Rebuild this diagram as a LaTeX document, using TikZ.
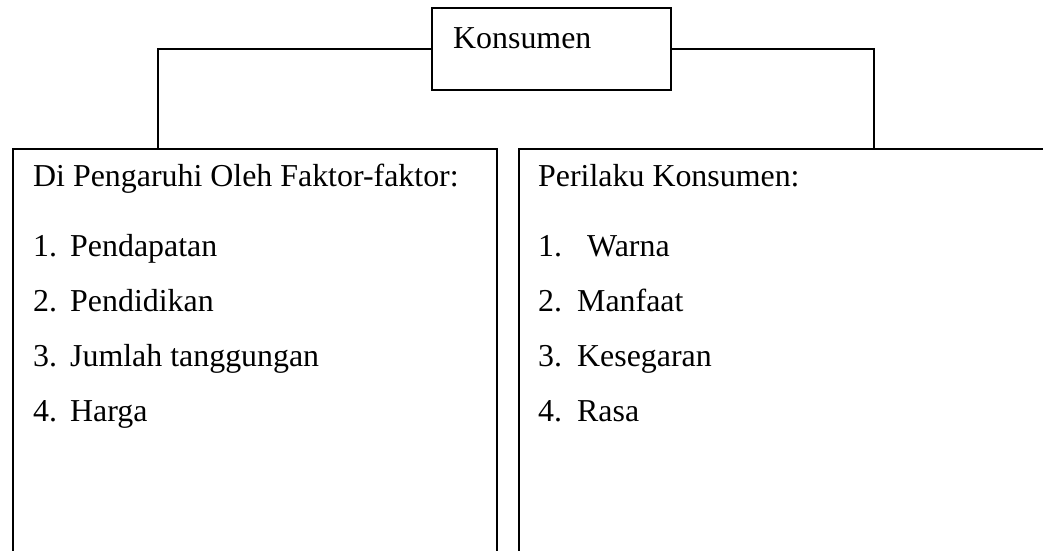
\documentclass[tikz,border=0pt]{standalone}
\usepackage{fontspec}
\setmainfont{Liberation Serif}
\begin{document}
\begin{tikzpicture}[x=1pt,y=-1pt,
  box/.style={draw,line width=1.5pt,inner sep=0pt},
  txt/.style={anchor=base west,inner sep=0pt,font=\fontsize{31.9}{38}\selectfont},
  conn/.style={line width=1.5pt}]
\useasboundingbox (0,0) rectangle (1043,550);
\clip (0,0) rectangle (1043,550);
% boxes
\node[box,minimum width=239pt,minimum height=82pt] (kbox) at (551.5,49) {};
\node[box,minimum width=484pt,minimum height=460pt,anchor=north west] (lbox) at (12,148) {};
\node[box,minimum width=560pt,minimum height=460pt,anchor=north west] (rbox) at (518,148) {};
% connector ends on box tops
\coordinate (lj) at (158,148);
\coordinate (rj) at (874,148);
\draw[conn] (kbox.west) -| (lj);
\draw[conn] (kbox.east) -| (rj);
% texts
\node[txt] (kt) at (453,48) {Konsumen};
\node[txt] (lh) at (33,186) {Di Pengaruhi Oleh Faktor-faktor:};
\node[txt] (ln1) at (33,256) {1.};
\node[txt] (lt1) at (70,256) {Pendapatan};
\node[txt] (ln2) at (33,311) {2.};
\node[txt] (lt2) at (70,311) {Pendidikan};
\node[txt] (ln3) at (33,366) {3.};
\node[txt] (lt3) at (70,366) {Jumlah tanggungan};
\node[txt] (ln4) at (33,421) {4.};
\node[txt] (lt4) at (70,421) {Harga};
\node[txt] (rh) at (538,186) {Perilaku Konsumen:};
\node[txt] (rn1) at (538,256) {1.};
\node[txt] (rt1) at (587,256) {Warna};
\node[txt] (rn2) at (538,311) {2.};
\node[txt] (rt2) at (577,311) {Manfaat};
\node[txt] (rn3) at (538,366) {3.};
\node[txt] (rt3) at (577,366) {Kesegaran};
\node[txt] (rn4) at (538,421) {4.};
\node[txt] (rt4) at (577,421) {Rasa};
\end{tikzpicture}
\end{document}
